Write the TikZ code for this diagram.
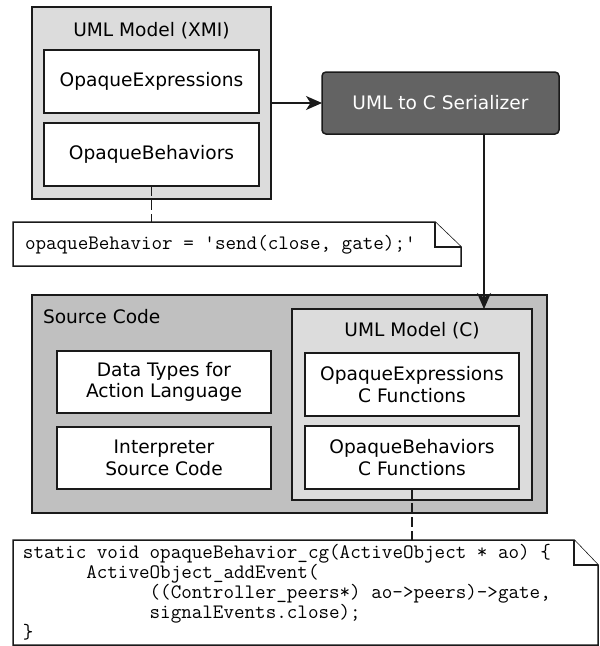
\documentclass[tikz,border=0pt]{standalone}
\usepackage{fontspec}
\setsansfont{DejaVu Sans}
\usetikzlibrary{arrows.meta,calc}

\definecolor{lightfill}{HTML}{DCDCDC}
\definecolor{midfill}{HTML}{C0C0C0}
\definecolor{darkfill}{HTML}{636363}
\definecolor{edge}{HTML}{1A1A1A}

\newcommand{\sanstext}{\sffamily\fontsize{18.6}{21.7}\selectfont}
\newcommand{\codetext}{\ttfamily\fontsize{20.5}{16.9}\selectfont}
\newcommand{\ind}[1]{\phantom{\ttfamily #1}}

\begin{document}
\begin{tikzpicture}[x=1pt,y=-1pt,
  every node/.style={inner sep=0pt,outer sep=0pt},
  box/.style={draw=edge,line width=1.5pt,fill=white,rectangle,
    minimum width=#1,align=center,font=\sanstext},
  box/.default=214pt,
  group/.style={draw=edge,line width=1.5pt,rectangle},
  label/.style={font=\sanstext},
  notebox/.style={rectangle,font=\codetext,align=left},
  dogear/.style={draw=edge,line width=1.5pt,fill=white,line join=miter},
  flow/.style={draw=edge,line width=1.4pt,-{Stealth[length=16pt,width=14pt,inset=4.5pt]}},
  trace/.style={draw=edge,line width=1.4pt,dash pattern=on 10pt off 4pt}
]
\useasboundingbox (0,0) rectangle (600,646);

% --- UML model in XMI form
\node[group,fill=lightfill,minimum width=239pt,minimum height=192pt] (xmi) at (151.5,103) {};
\node[label] (xmititle) at (151.5,31) {UML Model (XMI)};
\node[box=215pt,minimum height=63pt] (oe) at (151.5,81.5) {OpaqueExpressions};
\node[box=215pt,minimum height=63pt] (ob) at (151.5,154.5) {OpaqueBehaviors};

% --- serializer
\node[draw=edge,line width=1.5pt,fill=darkfill,rounded corners=4pt,
  minimum width=237pt,minimum height=62pt,text=white,font=\sanstext]
  (ser) at (440.5,103) {UML to C Serializer};

% --- generated source code
\node[group,fill=midfill,minimum width=515pt,minimum height=218pt] (src) at (289.5,404) {};
\node[label,anchor=west] (srctitle) at (43,317) {Source Code};
\node[box,minimum height=62pt] (dt) at (164,382) {Data Types for\\Action Language};
\node[box,minimum height=62pt] (ip) at (164,458) {Interpreter\\Source Code};

\node[group,fill=lightfill,minimum width=240pt,minimum height=191pt] (umlc) at (412,404.5) {};
\node[label] (umlctitle) at (412,331) {UML Model (C)};
\node[box,minimum height=63pt] (oec) at (412,384.5) {OpaqueExpressions\\C Functions};
\node[box,minimum height=63pt] (obc) at (412,457.5) {OpaqueBehaviors\\C Functions};

% --- notes with folded corner
\node[notebox,minimum width=448pt,minimum height=44pt] (note1) at (237,244) {};
\draw[dogear] (note1.north west) -- ($(note1.north east)+(-26,0)$)
  -- ($(note1.north east)+(0,25)$) -- (note1.south east) -- (note1.south west) -- cycle;
\draw[dogear] ($(note1.north east)+(-26,0)$) -- ($(note1.north east)+(-26,25)$)
  -- ($(note1.north east)+(0,25)$);
\node[notebox,anchor=west] (note1text) at (25,245) {opaqueBehavior = 'send(close, gate);'};

\node[notebox,minimum width=585pt,minimum height=105pt] (note2) at (305.5,592.5) {};
\draw[dogear] (note2.north west) -- ($(note2.north east)+(-24,0)$)
  -- ($(note2.north east)+(0,25)$) -- (note2.south east) -- (note2.south west) -- cycle;
\draw[dogear] ($(note2.north east)+(-24,0)$) -- ($(note2.north east)+(-24,25)$)
  -- ($(note2.north east)+(0,25)$);
\node[notebox,anchor=west] (note2text) at (23,592) {%
static void opaqueBehavior\_cg(ActiveObject * ao) \{\\
\ind{123456}ActiveObject\_addEvent(\\
\ind{123456789012}((Controller\_peers*) ao->peers)->gate,\\
\ind{123456789012}signalEvents.close);\\
\}};

% --- connectors
\coordinate (drop) at (484,0);
\draw[flow] (xmi.east) -- (ser.west);
\draw[flow] (ser.south -| drop) -- (umlc.north -| drop);
\draw[trace] (ob.south) -- (note1.north -| ob.south);
\draw[trace] (obc.south) -- (note2.north -| obc.south);
\end{tikzpicture}
\end{document}
